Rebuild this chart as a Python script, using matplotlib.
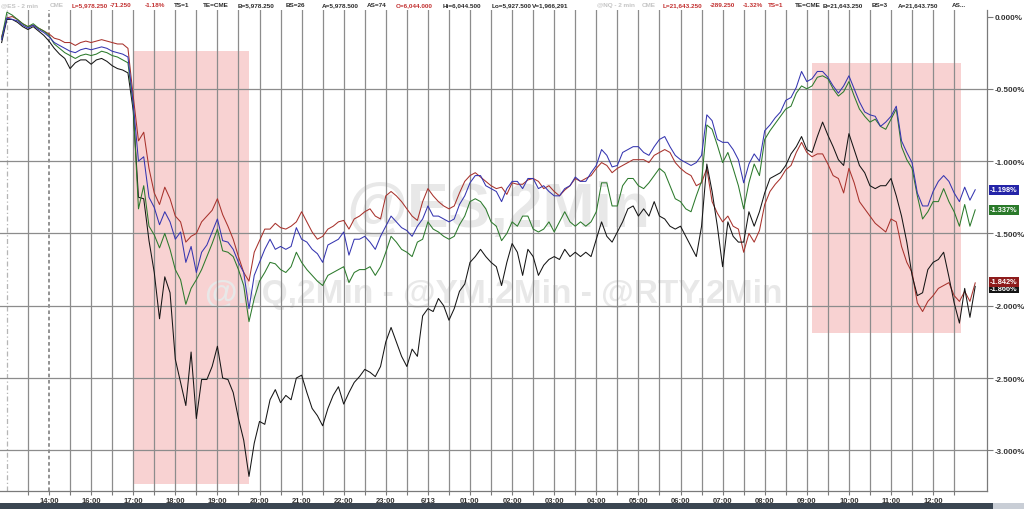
import numpy as np
import matplotlib.pyplot as plt
from matplotlib.patches import Rectangle

plt.rcParams['font.family'] = ['Liberation Sans', 'DejaVu Sans']

# x axis: one unit per labelled hour slot, 14:00 sits at 0
hour_labels = ['14:00', '16:00', '17:00', '18:00', '19:00', '20:00', '21:00', '22:00',
               '23:00', '6/13', '01:00', '02:00', '03:00', '04:00', '05:00', '06:00',
               '07:00', '08:00', '09:00', '10:00', '11:00', '12:00']
x_start, x_step = -1.125, 0.125

# % change
es = [-0.16, -0.01, -0.02, -0.03, -0.06, -0.08, -0.06, -0.09, -0.11, -0.14, -0.18, -0.20, -0.22, -0.24, -0.25, -0.23, -0.22, -0.23, -0.22, -0.21, -0.22, -0.24, -0.25, -0.26, -0.28,
      -0.60, -1.00, -0.97, -1.25, -1.32, -1.44, -1.35, -1.42, -1.54, -1.49, -1.70, -1.59, -1.77, -1.63, -1.58, -1.49, -1.40, -1.55, -1.56, -1.61, -1.70, -1.77, -2.02, -1.79, -1.70,
      -1.61, -1.54, -1.61, -1.59, -1.61, -1.59, -1.46, -1.54, -1.56, -1.61, -1.64, -1.70, -1.58, -1.56, -1.54, -1.49, -1.65, -1.54, -1.54, -1.52, -1.56, -1.61, -1.52, -1.45, -1.38,
      -1.42, -1.46, -1.48, -1.52, -1.45, -1.40, -1.31, -1.38, -1.38, -1.40, -1.42, -1.40, -1.30, -1.24, -1.15, -1.10, -1.10, -1.17, -1.19, -1.21, -1.28, -1.19, -1.14, -1.14, -1.19,
      -1.12, -1.12, -1.19, -1.17, -1.21, -1.24, -1.24, -1.19, -1.17, -1.11, -1.14, -1.14, -1.08, -1.03, -0.92, -0.96, -1.04, -1.03, -0.94, -0.92, -0.90, -0.90, -0.94, -0.96, -0.90,
      -0.85, -0.83, -0.90, -0.96, -0.99, -1.01, -1.03, -1.01, -0.96, -0.68, -0.72, -0.85, -0.87, -0.87, -0.92, -0.99, -1.15, -1.02, -0.95, -1.00, -0.79, -0.75, -0.70, -0.66, -0.58,
      -0.56, -0.49, -0.38, -0.45, -0.43, -0.38, -0.38, -0.42, -0.48, -0.53, -0.48, -0.41, -0.50, -0.59, -0.66, -0.68, -0.69, -0.76, -0.73, -0.69, -0.62, -0.86, -0.94, -1.01, -1.22,
      -1.31, -1.31, -1.21, -1.14, -1.10, -1.14, -1.22, -1.28, -1.18, -1.27, -1.198]
nq = [-0.15, 0.03, 0.01, -0.02, -0.05, -0.07, -0.05, -0.08, -0.10, -0.13, -0.19, -0.22, -0.25, -0.27, -0.29, -0.27, -0.26, -0.27, -0.26, -0.24, -0.25, -0.27, -0.28, -0.30, -0.32,
      -0.62, -1.33, -1.17, -1.45, -1.51, -1.60, -1.50, -1.61, -1.75, -1.82, -1.99, -1.88, -1.82, -1.75, -1.66, -1.57, -1.47, -1.62, -1.63, -1.66, -1.75, -1.86, -2.11, -1.95, -1.83,
      -1.77, -1.70, -1.71, -1.75, -1.77, -1.73, -1.63, -1.70, -1.75, -1.79, -1.83, -1.86, -1.79, -1.77, -1.75, -1.73, -1.84, -1.77, -1.75, -1.75, -1.73, -1.79, -1.73, -1.63, -1.52,
      -1.56, -1.61, -1.63, -1.66, -1.56, -1.54, -1.42, -1.47, -1.49, -1.52, -1.54, -1.52, -1.44, -1.38, -1.28, -1.26, -1.28, -1.33, -1.42, -1.45, -1.55, -1.50, -1.42, -1.45, -1.38,
      -1.38, -1.47, -1.49, -1.47, -1.42, -1.49, -1.42, -1.35, -1.42, -1.45, -1.42, -1.45, -1.42, -1.35, -1.15, -1.15, -1.31, -1.31, -1.17, -1.12, -1.12, -1.17, -1.19, -1.15, -1.10,
      -1.05, -1.08, -1.17, -1.26, -1.28, -1.33, -1.35, -1.24, -1.14, -0.75, -0.78, -0.89, -1.01, -0.94, -1.05, -1.17, -1.33, -1.15, -1.02, -1.10, -0.85, -0.79, -0.74, -0.69, -0.64,
      -0.62, -0.53, -0.48, -0.50, -0.48, -0.42, -0.41, -0.43, -0.50, -0.55, -0.52, -0.45, -0.55, -0.64, -0.69, -0.73, -0.71, -0.76, -0.78, -0.71, -0.64, -0.90, -0.99, -1.05, -1.24,
      -1.40, -1.35, -1.28, -1.28, -1.19, -1.28, -1.35, -1.45, -1.30, -1.45, -1.337]
ym = [-0.14, -0.01, 0.00, -0.02, -0.05, -0.07, -0.06, -0.08, -0.10, -0.12, -0.15, -0.16, -0.18, -0.18, -0.20, -0.18, -0.17, -0.18, -0.17, -0.16, -0.17, -0.18, -0.19, -0.19, -0.22,
      -0.55, -0.86, -0.80, -1.05, -1.22, -1.30, -1.18, -1.26, -1.38, -1.42, -1.56, -1.52, -1.50, -1.42, -1.38, -1.34, -1.26, -1.37, -1.45, -1.54, -1.66, -1.77, -1.83, -1.63, -1.55,
      -1.47, -1.47, -1.43, -1.46, -1.47, -1.45, -1.42, -1.35, -1.42, -1.49, -1.54, -1.52, -1.47, -1.45, -1.42, -1.41, -1.47, -1.40, -1.38, -1.35, -1.33, -1.38, -1.40, -1.24, -1.21,
      -1.24, -1.28, -1.33, -1.38, -1.41, -1.28, -1.19, -1.24, -1.28, -1.31, -1.33, -1.31, -1.22, -1.14, -1.10, -1.08, -1.11, -1.14, -1.17, -1.19, -1.18, -1.23, -1.15, -1.16, -1.16,
      -1.13, -1.12, -1.14, -1.19, -1.17, -1.21, -1.24, -1.20, -1.17, -1.12, -1.14, -1.12, -1.10, -1.05, -1.01, -1.03, -1.08, -1.05, -1.03, -1.01, -0.99, -0.99, -0.99, -1.01, -0.96,
      -0.94, -0.92, -0.94, -1.01, -1.05, -1.08, -1.10, -1.17, -1.15, -1.05, -1.28, -1.36, -1.42, -1.38, -1.45, -1.47, -1.63, -1.50, -1.56, -1.48, -1.30, -1.21, -1.16, -1.12, -1.06,
      -1.03, -0.94, -0.87, -0.94, -0.97, -0.95, -0.95, -1.02, -1.10, -1.12, -1.22, -1.05, -1.15, -1.28, -1.33, -1.38, -1.43, -1.46, -1.49, -1.40, -1.42, -1.59, -1.70, -1.77, -1.98,
      -2.04, -1.97, -1.93, -1.88, -1.86, -1.84, -1.93, -1.97, -1.90, -1.97, -1.842]
rty = [-0.18, -0.02, -0.02, -0.04, -0.07, -0.09, -0.07, -0.10, -0.13, -0.17, -0.22, -0.26, -0.29, -0.36, -0.32, -0.30, -0.30, -0.33, -0.30, -0.29, -0.31, -0.34, -0.36, -0.37, -0.39,
       -0.65, -1.25, -1.26, -1.55, -1.77, -2.09, -1.80, -1.91, -2.37, -2.53, -2.69, -2.32, -2.78, -2.51, -2.51, -2.42, -2.28, -2.50, -2.51, -2.60, -2.78, -2.93, -3.18, -2.95, -2.80,
       -2.82, -2.65, -2.58, -2.67, -2.62, -2.65, -2.50, -2.48, -2.60, -2.71, -2.76, -2.83, -2.71, -2.62, -2.56, -2.68, -2.60, -2.53, -2.49, -2.44, -2.46, -2.49, -2.42, -2.25, -2.15,
       -2.25, -2.35, -2.42, -2.30, -2.35, -2.07, -2.02, -2.04, -1.95, -2.00, -2.10, -2.02, -1.90, -1.85, -1.70, -1.66, -1.61, -1.66, -1.70, -1.73, -1.86, -1.70, -1.57, -1.63, -1.79,
       -1.61, -1.66, -1.79, -1.72, -1.68, -1.66, -1.68, -1.61, -1.66, -1.63, -1.66, -1.63, -1.66, -1.54, -1.42, -1.52, -1.56, -1.49, -1.42, -1.33, -1.31, -1.38, -1.33, -1.38, -1.28,
       -1.38, -1.40, -1.45, -1.47, -1.45, -1.52, -1.59, -1.66, -1.45, -1.02, -1.21, -1.45, -1.73, -1.42, -1.52, -1.56, -1.56, -1.35, -1.45, -1.35, -1.22, -1.12, -1.10, -1.08, -1.03,
       -0.95, -0.90, -0.83, -0.92, -0.94, -0.83, -0.73, -0.82, -0.90, -0.99, -1.03, -0.81, -0.92, -1.03, -1.08, -1.17, -1.19, -1.17, -1.17, -1.12, -1.24, -1.38, -1.56, -1.79, -1.93,
       -1.91, -1.75, -1.70, -1.68, -1.63, -1.80, -1.98, -2.12, -1.88, -2.08, -1.866]

# shaded zones: (x from, x to, top %, bottom %)
zones = [(2.0, 4.76, -0.237, -3.233), (18.12, 21.66, -0.32, -2.19)]

series = [(ym, '#a8322c'), (rty, '#151515'), (nq, '#2c7a2c'), (es, '#3535b0')]
# black tag first so the red one sits on top of it, as in the chart
last_tags = [(es, '#2424a8', 0), (nq, '#2a7a2a', 0), (rty, '#141414', 2), (ym, '#8e1c1c', -1)]

header_es = [(1, '@ES - 2 min', '#c4c4c4'), (50, 'CME', '#c4c4c4'),
             (72, 'L=5,978.250', '#c23030'), (110, '-71.250', '#c23030'), (145, '-1.18%', '#c23030'),
             (174, 'TS=1', '#2a2a2a'), (203, 'TE=CME', '#2a2a2a'), (238, 'B=5,978.250', '#2a2a2a'),
             (286, 'BS=26', '#2a2a2a'), (322, 'A=5,978.500', '#2a2a2a'), (367, 'AS=74', '#2a2a2a'),
             (396, 'O=6,044.000', '#c23030'), (443, 'Hi=6,044.500', '#2a2a2a'),
             (492, 'Lo=5,927.500', '#2a2a2a'), (532, 'V=1,966,291', '#2a2a2a')]
header_nq = [(597, '@NQ - 2 min', '#c4c4c4'), (642, 'CME', '#c4c4c4'),
             (663, 'L=21,643.250', '#c23030'), (710, '-289.250', '#c23030'), (743, '-1.32%', '#c23030'),
             (768, 'TS=1', '#c23030'), (795, 'TE=CME', '#2a2a2a'), (823, 'B=21,643.250', '#2a2a2a'),
             (872, 'BS=3', '#2a2a2a'), (898, 'A=21,643.750', '#2a2a2a'), (952, 'AS...', '#2a2a2a')]

W, H = 1024, 510
fig = plt.figure(figsize=(W / 100, H / 100), dpi=100)
ax = fig.add_axes([0, 1 - 492 / H, 987 / W, (492 - 11) / H])
ax.set_xlim(-1.164, 22.28)
ax.set_ylim(-3.281, 0.045)

x = x_start + x_step * np.arange(len(es))

for x0, x1, top, bot in zones:
    ax.add_patch(Rectangle((x0, bot), x1 - x0, top - bot, facecolor='#f8d2d2',
                           edgecolor='none', zorder=0.3))

ax.text(0.505, 0.585, '@ES,2Min', transform=ax.transAxes, fontsize=45, fontweight='bold',
        color='#e8e8e8', ha='center', va='center', zorder=0.6)
ax.text(0.50, 0.41, '@NQ,2Min - @YM,2Min - @RTY,2Min', transform=ax.transAxes, fontsize=24,
        fontweight='bold', color='#e8e8e8', ha='center', va='center', zorder=0.6)

# grid
for g in np.arange(-1.0, 21.51, 0.5):
    if g == -1.0:
        ax.axvline(g, color='#b5b5b5', lw=0.9, ls=(0, (4, 2, 1, 2)), zorder=1)
    elif g == 0.0:
        ax.axvline(g, color='#8a8a8a', lw=1.3, ls=(0, (2, 1.5)), zorder=1)
    else:
        ax.axvline(g, color='#8c8c8c', lw=0.9, zorder=1)
for lvl in np.arange(-0.5, -3.01, -0.5):
    ax.axhline(lvl, color='#8c8c8c', lw=0.9, zorder=1)

for vals, col in series:
    ax.plot(x, vals, color=col, lw=0.75, zorder=2)

for sp in ['left', 'top']:
    ax.spines[sp].set_visible(False)
for sp in ['bottom', 'right']:
    ax.spines[sp].set_color('#7a7a7a')
    ax.spines[sp].set_linewidth(0.9)

ax.set_xticks(range(len(hour_labels)))
ax.set_xticklabels(hour_labels)
ax.set_xticks(np.arange(-0.5, 21.6, 1.0), minor=True)
ax.tick_params(axis='x', which='both', direction='out', length=3, width=0.8, color='#7a7a7a',
               labelsize=5.5, labelcolor='#333333', pad=1.5)
for lab in ax.get_xticklabels():
    lab.set_fontweight('bold')

yt = np.arange(0, -3.01, -0.5)
ax.yaxis.tick_right()
ax.set_yticks(yt)
ax.set_yticklabels(['%.3f%%' % v for v in yt])
ax.tick_params(axis='y', direction='out', length=4, width=0.8, color='#7a7a7a',
               labelsize=5.8, labelcolor='#333333', pad=1.5)
for lab in ax.get_yticklabels():
    lab.set_fontweight('bold')

# last value tags
for vals, col, shift in last_tags:
    yy = (ax.transData.transform((0, vals[-1]))[1] - shift) / H
    fig.text(990 / W, yy, '%.3f%%' % vals[-1], fontsize=5.3, fontweight='bold', color='white',
             ha='left', va='center',
             bbox=dict(boxstyle='square,pad=0.2', facecolor=col, edgecolor='none'))

# header strip
for xs, txt, col in header_es + header_nq:
    fig.text(xs / W, 1 - 5.5 / H, txt, fontsize=4.6, fontweight='bold', color=col,
             ha='left', va='center')

# scrollbar strip at the bottom
fig.patches.append(Rectangle((0, 0), 993 / W, 6 / H, transform=fig.transFigure,
                             facecolor='#3b4652', edgecolor='none'))
fig.patches.append(Rectangle((993 / W, 0), 1 - 993 / W, 6 / H, transform=fig.transFigure,
                             facecolor='#c9ced6', edgecolor='none'))

fig.savefig('out.png', dpi=100)
